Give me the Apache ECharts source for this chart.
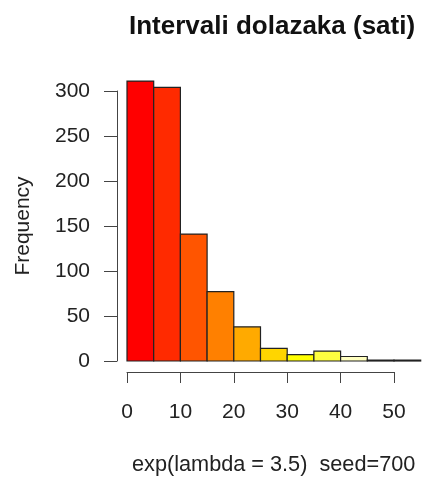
<!DOCTYPE html>
<html>
<head>
<meta charset="utf-8">
<script src="https://cdn.jsdelivr.net/npm/echarts@6/dist/echarts.min.js"></script>
<style>
  html, body { margin: 0; padding: 0; background: #fff; }
  #chart { width: 423px; height: 478px; }
</style>
</head>
<body>
<div id="chart"></div>
<script>
// histogram bins (hours) and counts
const binStarts = [0, 5, 10, 15, 20, 25, 30, 35, 40, 45, 50]
const binWidth = 5
const counts = [311, 304, 141, 77, 38, 14, 7, 11, 5, 1, 1]
// heat.colors(9), recycled
const barColors = ['#FF0000', '#FF2A00', '#FF5500', '#FF8000', '#FFAA00', '#FFD500', '#FFFF00', '#FFFF40', '#FFFFBF']

const font = 'Liberation Sans'
const chart = echarts.init(document.getElementById('chart'))

const data = binStarts.map((x0, i) => [x0, x0 + binWidth, counts[i]])

chart.setOption({
  backgroundColor: '#fff',
  animation: false,
  title: [
    {
      text: 'Intervali dolazaka (sati)',
      left: 129,
      top: 14,
      padding: 0,
      textStyle: { fontFamily: font, fontSize: 26, fontWeight: 'bold', color: '#111' }
    },
    {
      text: 'exp(lambda = 3.5)  seed=700',
      left: 132,
      top: 454,
      padding: 0,
      textStyle: { fontFamily: font, fontSize: 21.7, fontWeight: 'normal', color: '#222' }
    }
  ],
  grid: { left: 127, right: 29, top: 91, bottom: 117 },
  xAxis: {
    type: 'value',
    min: 0,
    max: 50,
    interval: 10,
    offset: 11,
    splitLine: { show: false },
    axisLine: { show: true, onZero: false, lineStyle: { color: '#444', width: 1 } },
    axisTick: { show: true, length: 11, lineStyle: { color: '#444' } },
    axisLabel: { margin: 30, fontFamily: font, fontSize: 21, color: '#222' }
  },
  yAxis: {
    type: 'value',
    min: 0,
    max: 300,
    interval: 50,
    offset: 10,
    name: 'Frequency',
    nameLocation: 'middle',
    nameGap: 83,
    nameTextStyle: { fontFamily: font, fontSize: 21, color: '#222' },
    splitLine: { show: false },
    axisLine: { show: true, onZero: false, lineStyle: { color: '#444', width: 1 } },
    axisTick: { show: true, length: 13, lineStyle: { color: '#444' } },
    axisLabel: { margin: 27, fontFamily: font, fontSize: 21, color: '#222' }
  },
  series: [
    {
      type: 'custom',
      clip: false,
      data: data,
      encode: { x: [0, 1], y: 2 },
      renderItem: (params, api) => {
        const p0 = api.coord([api.value(0), api.value(2)])
        const p1 = api.coord([api.value(1), 0])
        return {
          type: 'rect',
          shape: { x: p0[0], y: p0[1], width: p1[0] - p0[0], height: p1[1] - p0[1] },
          style: {
            fill: barColors[params.dataIndex % barColors.length],
            stroke: '#222',
            lineWidth: 1.2
          }
        }
      }
    }
  ]
})
</script>
</body>
</html>
